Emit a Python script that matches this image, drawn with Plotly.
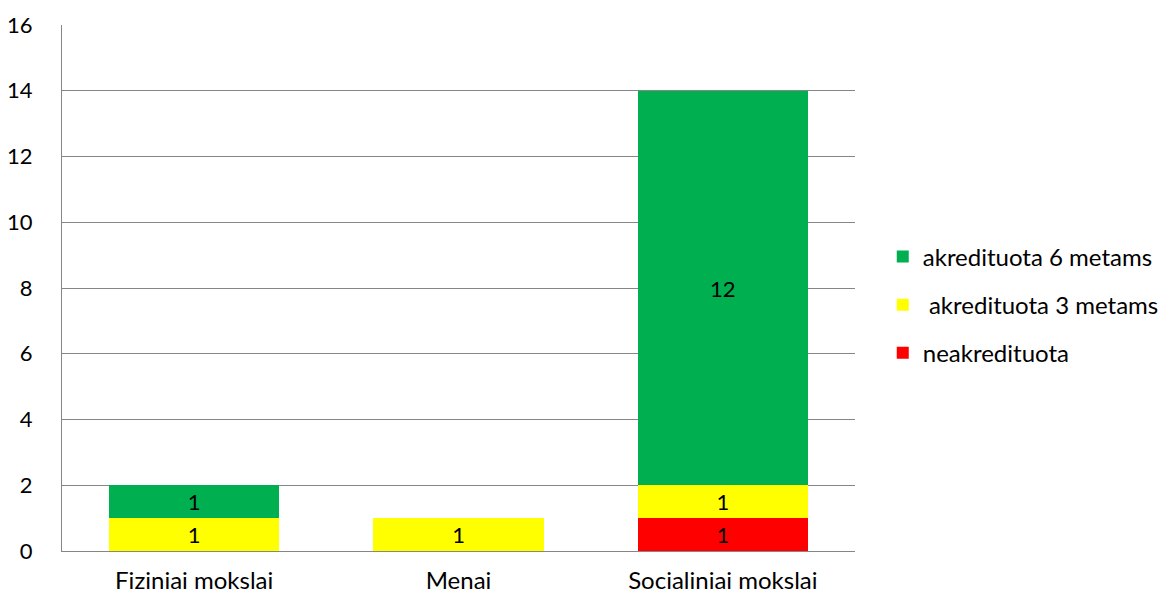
import plotly.graph_objects as go

categories = ["Fiziniai mokslai", "Menai", "Socialiniai mokslai"]
neakredituota = [None, None, 1]
akred3 = [1, 1, 1]
akred6 = [1, None, 12]
y_ticks = [0, 2, 4, 6, 8, 10, 12, 14, 16]

FONT = "Lato, Open Sans, sans-serif"
FS = 24

fig = go.Figure()
series = [
    ("neakredituota", neakredituota, "#FF0000", 3),
    (" akredituota 3 metams", akred3, "#FFFF00", 2),
    ("akredituota 6 metams", akred6, "#00B050", 1),
]
for name, vals, color, rank in series:
    fig.add_trace(go.Bar(
        x=categories, y=vals, name=name, legendrank=rank,
        legendgroup=name,
        marker=dict(color=color, line=dict(width=0)),
        text=[("" if v is None else str(v)) for v in vals],
        textposition="inside", insidetextanchor="middle",
        textangle=0,
        textfont=dict(color="black", size=22, family=FONT),
        constraintext="none",
        hoverinfo="skip",
    ))

fig.update_layout(
    barmode="stack",
    bargap=0.356,
    width=1173, height=597,
    margin=dict(l=54, r=326, t=17, b=54),
    paper_bgcolor="white", plot_bgcolor="white",
    font=dict(family=FONT, size=FS, color="black"),
    uniformtext=dict(mode="show", minsize=22),
    legend=dict(
        x=1.035, y=0.468, xanchor="left", yanchor="middle",
        traceorder="grouped", tracegroupgap=14,
        font=dict(size=FS, family=FONT),
        itemwidth=30,
    ),
    xaxis=dict(
        showline=True, linecolor="#868686", linewidth=1,
        ticks="", tickfont=dict(size=FS), ticklabelstandoff=8,
        automargin=False,
    ),
    yaxis=dict(
        range=[0, 16], tickvals=y_ticks,
        showgrid=True, gridcolor="#868686", gridwidth=1,
        showline=True, linecolor="#868686", linewidth=1,
        zeroline=False, ticks="", tickfont=dict(size=22),
        ticklabelstandoff=24, automargin=False,
    ),
)

fig.write_html("out.html")
